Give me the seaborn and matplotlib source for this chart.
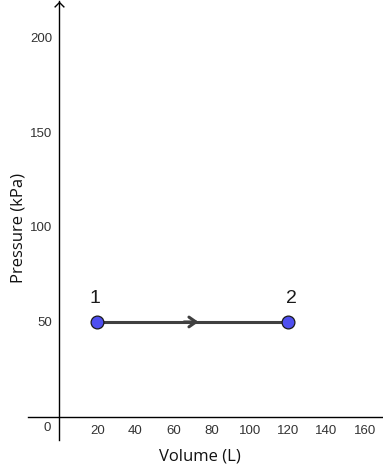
import matplotlib
matplotlib.use("Agg")
import matplotlib.pyplot as plt
import seaborn as sns
import pandas as pd

volume = [20, 120]
pressure = [50, 50]
point_labels = ["1", "2"]
x_ticks = [20, 40, 60, 80, 100, 120, 140, 160]
y_ticks = [50, 100, 150, 200]

sns.set_style("white")
plt.rcParams["font.family"] = ["Liberation Sans", "DejaVu Sans"]

df = pd.DataFrame({"Volume": volume, "Pressure": pressure, "label": point_labels})

fig = plt.figure(figsize=(3.83, 4.69), dpi=100)
ax = fig.add_axes([0, 0, 1, 1])

sns.lineplot(data=df, x="Volume", y="Pressure", ax=ax, color="#404040", lw=2.2, zorder=2)
sns.scatterplot(data=df, x="Volume", y="Pressure", ax=ax, color="#4f4ff0", edgecolor="#1a1a1a",
                s=85, linewidth=0.9, zorder=3)

# direction arrow in middle
mid = (volume[0] + volume[1]) / 2
ax.annotate("", xy=(mid + 4.5, pressure[0]), xytext=(mid - 6, pressure[0]),
            arrowprops=dict(arrowstyle="->,head_length=0.5,head_width=0.35", lw=2.2, color="#404040"),
            zorder=2)

offsets = [-1.0, 1.5]
for v, p, lab, dx in zip(volume, pressure, point_labels, offsets):
    ax.text(v + dx, p + 8, lab, fontsize=14, color="#1a1a1a", ha="center", va="bottom")

ax.set_xlim(-30.9, 169.6)
ax.set_ylim(-27.4, 219.5)

for s in ["top", "right"]:
    ax.spines[s].set_visible(False)
ax.spines["left"].set_position(("data", 0))
ax.spines["bottom"].set_position(("data", 0))
ax.spines["left"].set_bounds(-12, 219)
ax.spines["bottom"].set_bounds(-16, 169.6)
for s in ["left", "bottom"]:
    ax.spines[s].set_color("black")
    ax.spines[s].set_linewidth(1.0)

# arrowhead at top of y axis
ax.plot([0], [218.5], marker=[(-1, -1), (0, 0), (1, -1)], markersize=7, color="black",
        fillstyle="none", mew=1.0, clip_on=False, markerfacecolor="none")

ax.set_xticks(x_ticks)
ax.set_yticks(y_ticks)
ax.tick_params(axis="y", direction="out", length=3, width=1, labelsize=9.5, labelcolor="#333333", pad=2)
ax.tick_params(axis="x", direction="out", length=0, labelsize=9.5, labelcolor="#333333", pad=6)
ax.text(-6, -5.8, "0", fontsize=9.5, color="#333333", ha="center", va="center")

ax.set_xlabel("")
ax.set_ylabel("")
ax.text(73.5, -21, "Volume (L)", fontsize=12, ha="center", va="center", color="#111111",
        family=["Open Sans", "DejaVu Sans"])
ax.text(-21, 99.5, "Pressure (kPa)", fontsize=12, ha="center", va="center", rotation=90, color="#111111",
        family=["Open Sans", "DejaVu Sans"])

fig.savefig("out.png", dpi=100)
